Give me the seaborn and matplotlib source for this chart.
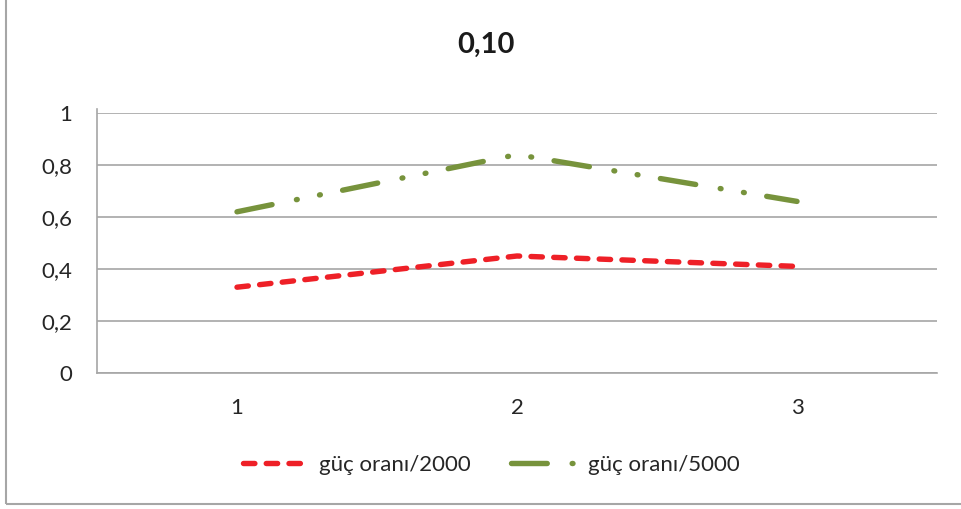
import matplotlib
matplotlib.use("Agg")
import matplotlib.pyplot as plt
import seaborn as sns
import pandas as pd
from matplotlib.patches import Rectangle

# ---- data ----
categories = [1, 2, 3]
series_names = ["güç oranı/2000", "güç oranı/5000"]
values_2000 = [0.33, 0.45, 0.41]
values_5000 = [0.62, 0.84, 0.66]
y_ticks = [0, 0.2, 0.4, 0.6, 0.8, 1.0]
y_tick_labels = ["0", "0,2", "0,4", "0,6", "0,8", "1"]
title_text = "0,10"

df = pd.DataFrame({
    "x": categories * 2,
    "y": values_2000 + values_5000,
    "series": [series_names[0]] * 3 + [series_names[1]] * 3,
})

sns.set_theme(style="white")
plt.rcParams["font.family"] = ["Lato", "DejaVu Sans"]

fig = plt.figure(figsize=(9.61, 5.09), dpi=100)
ax = fig.add_axes([97 / 961, 1 - 373 / 509, 840 / 961, 260 / 509])

colors = {series_names[0]: "#EE2027", series_names[1]: "#77933C"}
dashes = {series_names[0]: (2.1, 2.1),
          series_names[1]: (6.6, 4.6, 0.15, 4.2, 0.15, 4.2)}

sns.lineplot(data=df, x="x", y="y", hue="series", style="series",
             palette=colors, dashes=dashes, linewidth=3.9,
             dash_capstyle="round", ax=ax, legend=False)

ax.set_xlim(0.5, 3.5)
ax.set_ylim(0, 1)
ax.set_xticks(categories)
ax.set_xticklabels([str(c) for c in categories])
ax.set_yticks(y_ticks)
ax.set_yticklabels(y_tick_labels)
ax.set_xlabel("")
ax.set_ylabel("")
ax.tick_params(axis="both", length=0, labelsize=16, colors="#262626")
ax.tick_params(axis="y", pad=18)
ax.tick_params(axis="x", pad=18)
ax.grid(axis="y", color="#A6A6A6", linewidth=1.2)
ax.set_axisbelow(True)
for s in ["top", "right"]:
    ax.spines[s].set_visible(False)
for s in ["left", "bottom"]:
    ax.spines[s].set_color("#A6A6A6")
    ax.spines[s].set_linewidth(1.2)
ax.spines["left"].set_bounds(0, 1.015)

fig.text(486 / 961, 1 - 45 / 509, title_text, ha="center", va="center",
         fontsize=21, fontweight="bold", color="#1a1a1a")

lines = ax.get_lines()
leg = fig.legend(lines[:2], series_names, loc="center", ncol=2,
                 bbox_to_anchor=(491 / 961, 1 - 465 / 509), frameon=False,
                 fontsize=16, handlelength=2.9, columnspacing=1.8,
                 handletextpad=0.55)
for t in leg.get_texts():
    t.set_color("#262626")

fig.patches.append(Rectangle((6 / 961, 5 / 509), 1.0, 1.0, transform=fig.transFigure,
                             fill=False, edgecolor="#A6A6A6", linewidth=1.5))

fig.savefig("out.png", dpi=100)
